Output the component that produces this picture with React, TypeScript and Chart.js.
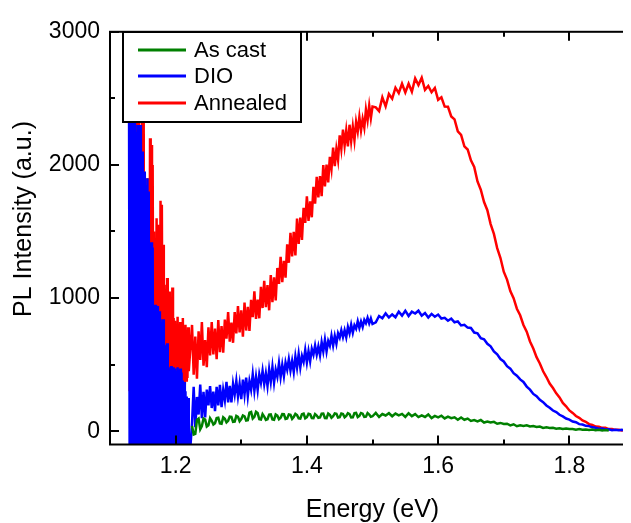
import { useEffect, useRef } from "react";
import { Chart, registerables } from "chart.js";

Chart.register(...registerables);

// Photon energy (eV): 0.001 eV in the noisy detector edge, 0.0025 eV in the noisy rise, 0.005 eV after
const energy = [
  1.129, 1.13, 1.131, 1.132, 1.133, 1.134, 1.135, 1.136, 1.137, 1.138,
  1.139, 1.14, 1.141, 1.142, 1.143, 1.144, 1.145, 1.146, 1.147, 1.148,
  1.149, 1.15, 1.151, 1.152, 1.153, 1.154, 1.155, 1.156, 1.157, 1.158,
  1.159, 1.16, 1.161, 1.162, 1.163, 1.164, 1.165, 1.166, 1.167, 1.168,
  1.169, 1.17, 1.171, 1.172, 1.173, 1.174, 1.175, 1.176, 1.177, 1.178,
  1.179, 1.18, 1.181, 1.182, 1.183, 1.184, 1.185, 1.186, 1.187, 1.188,
  1.189, 1.19, 1.191, 1.192, 1.193, 1.194, 1.195, 1.196, 1.197, 1.198,
  1.199, 1.2, 1.201, 1.202, 1.203, 1.204, 1.205, 1.206, 1.207, 1.208,
  1.209, 1.21, 1.211, 1.212, 1.213, 1.214, 1.215, 1.216, 1.217, 1.218,
  1.219, 1.22,
  1.225, 1.2275, 1.23, 1.2325, 1.235, 1.2375, 1.24, 1.2425, 1.245, 1.2475,
  1.25, 1.2525, 1.255, 1.2575, 1.26, 1.2625, 1.265, 1.2675, 1.27, 1.2725,
  1.275, 1.2775, 1.28, 1.2825, 1.285, 1.2875, 1.29, 1.2925, 1.295, 1.2975,
  1.3, 1.3025, 1.305, 1.3075, 1.31, 1.3125, 1.315, 1.3175, 1.32, 1.3225,
  1.325, 1.3275, 1.33, 1.3325, 1.335, 1.3375, 1.34, 1.3425, 1.345, 1.3475,
  1.35, 1.3525, 1.355, 1.3575, 1.36, 1.3625, 1.365, 1.3675, 1.37, 1.3725,
  1.375, 1.3775, 1.38, 1.3825, 1.385, 1.3875, 1.39, 1.3925, 1.395, 1.3975,
  1.4, 1.4025, 1.405, 1.4075, 1.41, 1.4125, 1.415, 1.4175, 1.42, 1.4225,
  1.425, 1.4275, 1.43, 1.4325, 1.435, 1.4375, 1.44, 1.4425, 1.445, 1.4475,
  1.45, 1.4525, 1.455, 1.4575, 1.46, 1.4625, 1.465, 1.4675, 1.47, 1.4725,
  1.475, 1.4775, 1.48, 1.4825, 1.485, 1.4875, 1.49, 1.4925, 1.495, 1.4975,
  1.5,
  1.505, 1.51, 1.515, 1.52, 1.525, 1.53, 1.535, 1.54, 1.545, 1.55,
  1.555, 1.56, 1.565, 1.57, 1.575, 1.58, 1.585, 1.59, 1.595, 1.6,
  1.605, 1.61, 1.615, 1.62, 1.625, 1.63, 1.635, 1.64, 1.645, 1.65,
  1.655, 1.66, 1.665, 1.67, 1.675, 1.68, 1.685, 1.69, 1.695, 1.7,
  1.705, 1.71, 1.715, 1.72, 1.725, 1.73, 1.735, 1.74, 1.745, 1.75,
  1.755, 1.76, 1.765, 1.77, 1.775, 1.78, 1.785, 1.79, 1.795, 1.8,
  1.805, 1.81, 1.815, 1.82, 1.825, 1.83, 1.835, 1.84, 1.845, 1.85,
  1.855, 1.86, 1.865, 1.87, 1.875, 1.88, 1.885, 1.89, 1.895,
];

const asCast = [
  null, null, null, null, null, null, null, null, null, null,
  null, null, null, null, null, null, null, null, null, null,
  null, null, null, null, null, null, null, null, null, null,
  null, null, null, null, null, null, null, null, null, null,
  null, null, null, null, null, null, null, null, null, null,
  null, null, null, null, null, null, null, null, null, null,
  null, null, null, null, null, null, null, null, null, null,
  null, null, null, null, null, null, null, null, null, null,
  null, null, null, null, null, null, null, null, null, null,
  null, null,
  40, -25, -20, 85, 95, 15, 39, 95, 87, 35,
  44, 98, 78, 50, 60, 98, 101, 58, 55, 104,
  93, 66, 78, 110, 108, 70, 72, 115, 108, 75,
  91, 118, 111, 80, 82, 140, 145, 95, 108, 145,
  136, 90, 88, 128, 110, 85, 90, 124, 126, 88,
  85, 125, 117, 90, 101, 128, 127, 92, 95, 126,
  123, 93, 107, 130, 121, 96, 94, 128, 132, 97,
  105, 131, 127, 99, 98, 129, 118, 100, 103, 132,
  133, 99, 98, 133, 123, 101, 112, 134, 131, 102,
  105, 133, 129, 104, 115, 135, 128, 103, 104, 136,
  138, 106, 115, 137, 132, 107, 109, 136, 125, 108,
  112,
  137, 107, 129, 118, 135, 112, 132, 119, 130, 107,
  135, 113, 128, 106, 119, 107, 126, 99, 115, 104,
  116, 96, 109, 98, 104, 86, 103, 86, 95, 77,
  84, 74, 84, 65, 73, 65, 70, 56, 62, 54,
  56, 44, 52, 37, 44, 39, 44, 35, 38, 31,
  35, 25, 29, 24, 26, 19, 22, 17, 20, 16,
  17, 11, 16, 11, 12, 9, 12, 7, 10, 6,
  8, 5, null, null, null, null, null, null, null,
];

const dio = [
  2500, -400, 2450, -400, 2500, -400, 3500, -400, 3500, -400,
  2300, -400, 2250, -400, 2300, -400, 2200, -400, 2300, -400,
  2100, -400, 1900, -400, 1950, -400, 1850, -400, 1900, -400,
  1800, -400, 1400, -400, 1420, -400, 1380, -400, 940, -400,
  950, -400, 920, -400, 940, -400, 900, -400, 840, -400,
  820, -400, 840, -400, 650, -400, 640, -400, 660, -400,
  480, -400, 470, -400, 490, -400, 460, -400, 480, -400,
  470, -400, 450, -400, 480, -400, 460, -400, 470, -400,
  440, -400, 380, -400, 370, -400, 300, -400, 260, -400,
  250, -300,
  61, 334, 30, 257, 125, 350, 98, 296, 103, 313,
  194, 339, 174, 298, 150, 333, 193, 348, 180, 310,
  233, 370, 217, 340, 216, 354, 276, 377, 262, 355,
  240, 387, 277, 403, 265, 375, 312, 427, 304, 408,
  309, 427, 364, 453, 353, 434, 340, 464, 372, 483,
  365, 462, 409, 510, 407, 498, 414, 516, 462, 540,
  456, 528, 445, 560, 478, 580, 480, 564, 520, 609,
  516, 601, 525, 618, 575, 643, 575, 637, 570, 668,
  600, 687, 600, 677, 642, 717, 644, 716, 657, 735,
  703, 758, 706, 758, 705, 782, 735, 800, 740, 796,
  770, 826, 776, 823, 783, 836, 811, 851, 810, 847,
  805,
  818, 865, 848, 885, 854, 877, 856, 898, 868, 905,
  865, 898, 884, 905, 868, 888, 854, 881, 860, 876,
  846, 851, 830, 846, 818, 825, 794, 799, 778, 775,
  741, 735, 698, 690, 656, 637, 599, 577, 542, 524,
  488, 470, 436, 417, 389, 370, 335, 312, 280, 263,
  235, 218, 193, 176, 155, 143, 123, 111, 95, 87,
  73, 67, 53, 50, 40, 38, 29, 26, 19, 20,
  13, 15, 8, 11, 7, 10, 4, 6, 3,
];

const annealed = [
  3500, 300, 3500, 300, 3500, 300, 2500, 300, 2500, 300,
  3500, 300, 3500, 300, 3500, 300, 2000, 300, 1900, 300,
  3500, 300, 3500, 300, 1800, 300, 1700, 300, 1900, 300,
  1850, 300, 2200, 400, 2150, 400, 2000, 400, 1500, 400,
  1450, 400, 1600, 400, 1550, 400, 1300, 400, 1730, 400,
  1700, 400, 1400, 400, 1100, 400, 1000, 400, 1150, 400,
  950, 400, 1050, 400, 900, 400, 1080, 400, 850, 400,
  830, 400, 790, 400, 860, 400, 700, 350, 820, 350,
  760, 350, 850, 350, 650, 350, 800, 380, 720, 400,
  780, 450,
  798, 424, 710, 395, 750, 535, 820, 492, 684, 480,
  781, 569, 820, 577, 770, 540, 835, 594, 790, 590,
  838, 695, 895, 673, 816, 664, 894, 735, 940, 742,
  908, 710, 967, 756, 935, 753, 986, 856, 1050, 844,
  989, 848, 1084, 925, 1130, 932, 1098, 908, 1172, 969,
  1155, 983, 1226, 1106, 1310, 1119, 1279, 1153, 1404, 1265,
  1490, 1312, 1498, 1320, 1597, 1406, 1605, 1437, 1678, 1565,
  1765, 1580, 1726, 1607, 1836, 1709, 1910, 1756, 1916, 1765,
  1999, 1839, 2003, 1868, 2060, 1970, 2130, 1991, 2119, 2037,
  2222, 2121, 2265, 2146, 2258, 2140, 2302, 2178, 2288, 2185,
  2323, 2251, 2360, 2259, 2346, 2280, 2416, 2336, 2445, 2351,
  2439,
  2432, 2404, 2507, 2440, 2533, 2498, 2580, 2540, 2610, 2545,
  2610, 2550, 2650, 2600, 2655, 2564, 2593, 2546, 2578, 2489,
  2508, 2438, 2437, 2364, 2342, 2252, 2225, 2140, 2116, 2034,
  1985, 1876, 1814, 1721, 1660, 1556, 1482, 1375, 1301, 1198,
  1139, 1053, 999, 920, 871, 798, 748, 674, 621, 556,
  509, 450, 407, 358, 324, 284, 254, 212, 187, 156,
  137, 114, 100, 81, 71, 53, 47, 35, 33, 25,
  25, 16, 17, 10, 11, 6, 10, 5, 8,
];

const seriesNames = ["As cast", "DIO", "Annealed"];
const seriesColors = ["#008000", "#0000FF", "#FF0000"];

const xMajorTicks = [1.2, 1.4, 1.6, 1.8];
const xMinorTicks = [1.3, 1.5, 1.7];
const yMajorTicks = [0, 1000, 2000, 3000];
const yMinorTicks = [500, 1500, 2500];

const xTitle = "Energy (eV)";
const yTitle = "PL Intensity (a.u.)";

const FONT = '"Liberation Sans", Arial, Helvetica, sans-serif';

const framePlugin = {
  id: "originFrame",
  afterDatasetsDraw(chart: any) {
    const { ctx, chartArea: a, scales } = chart;
    const xs = scales.x;
    const ys = scales.y;
    ctx.save();
    ctx.strokeStyle = "#000";
    ctx.lineWidth = 2;
    ctx.strokeRect(a.left, a.top, a.right - a.left, a.bottom - a.top);
    const seg = (x1: number, y1: number, x2: number, y2: number) => {
      ctx.beginPath();
      ctx.moveTo(x1, y1);
      ctx.lineTo(x2, y2);
      ctx.stroke();
    };
    const major = 9;
    const minor = 5;
    for (const v of xMajorTicks) {
      const x = Math.round(xs.getPixelForValue(v));
      seg(x, a.bottom, x, a.bottom - major);
      seg(x, a.top, x, a.top + major);
    }
    for (const v of xMinorTicks) {
      const x = Math.round(xs.getPixelForValue(v));
      seg(x, a.bottom, x, a.bottom - minor);
      seg(x, a.top, x, a.top + minor);
    }
    for (const v of yMajorTicks) {
      const y = Math.round(ys.getPixelForValue(v));
      seg(a.left, y, a.left + major, y);
      seg(a.right, y, a.right - major, y);
    }
    for (const v of yMinorTicks) {
      const y = Math.round(ys.getPixelForValue(v));
      seg(a.left, y, a.left + minor, y);
      seg(a.right, y, a.right - minor, y);
    }

    // axis titles
    ctx.fillStyle = "#000";
    ctx.font = `25px ${FONT}`;
    ctx.textAlign = "center";
    ctx.textBaseline = "alphabetic";
    ctx.fillText(xTitle, (a.left + a.right) / 2, 509);
    ctx.save();
    ctx.translate(23, 211);
    ctx.rotate(-Math.PI / 2);
    ctx.fillText(yTitle, 0, 0);
    ctx.restore();

    // legend box
    const bx = 115, by = 24, bw = 178, bh = 90;
    ctx.fillStyle = "#fff";
    ctx.fillRect(bx, by, bw, bh);
    ctx.lineWidth = 2;
    ctx.strokeStyle = "#000";
    ctx.strokeRect(bx, by, bw, bh);
    const rows = [42, 68, 95];
    ctx.font = `22px ${FONT}`;
    ctx.textAlign = "left";
    ctx.textBaseline = "middle";
    seriesNames.forEach((name, i) => {
      ctx.strokeStyle = seriesColors[i];
      ctx.lineWidth = 3;
      seg(130, rows[i], 178, rows[i]);
      ctx.fillStyle = "#000";
      ctx.fillText(name, 186, rows[i] + 1);
    });
    ctx.restore();
  },
};

export default function App() {
  const canvasRef = useRef<HTMLCanvasElement | null>(null);

  useEffect(() => {
    const canvas = canvasRef.current;
    if (!canvas) return;
    const seriesValues = [asCast, dio, annealed];
    const datasets = seriesNames.map((name, i) => ({
      label: name,
      data: energy.map((e, j) => ({ x: e, y: seriesValues[i][j] })),
      borderColor: seriesColors[i],
      backgroundColor: seriesColors[i],
      borderWidth: 2.5,
      pointRadius: 0,
      tension: 0,
      spanGaps: false,
      clip: 0,
    }));

    const chart = new Chart(canvas, {
      type: "line",
      data: { datasets },
      options: {
        animation: false,
        responsive: false,
        maintainAspectRatio: false,
        devicePixelRatio: 1,
        layout: { padding: { top: 9, right: 0, left: 0, bottom: 0 } },
        plugins: {
          legend: { display: false },
          tooltip: { enabled: false },
          title: { display: false },
        },
        scales: {
          x: {
            type: "linear",
            min: 1.1,
            max: 1.9,
            grid: { display: false, drawTicks: false },
            border: { display: false },
            ticks: {
              color: "#000",
              font: { family: FONT, size: 23 },
              padding: 8,
              autoSkip: false,
              maxRotation: 0,
              callback: (v: any) => Number(v).toFixed(1),
            },
            afterBuildTicks: (s: any) => {
              s.ticks = xMajorTicks.map((v) => ({ value: v }));
            },
            afterFit: (s: any) => {
              s.height = 78.5;
            },
          },
          y: {
            type: "linear",
            min: -100,
            max: 3000,
            grid: { display: false, drawTicks: false },
            border: { display: false },
            ticks: {
              color: "#000",
              font: { family: FONT, size: 23 },
              padding: 10,
              autoSkip: false,
              callback: (v: any) => String(v),
            },
            afterBuildTicks: (s: any) => {
              s.ticks = yMajorTicks.map((v) => ({ value: v }));
            },
            afterFit: (s: any) => {
              s.width = 102;
            },
          },
        },
      },
      plugins: [framePlugin],
    } as any);

    return () => chart.destroy();
  }, []);

  return (
    <div style={{ width: 623, height: 515, overflow: "hidden", position: "relative" }}>
      <canvas ref={canvasRef} width={627} height={515} style={{ display: "block", width: 627, height: 515 }} />
    </div>
  );
}
